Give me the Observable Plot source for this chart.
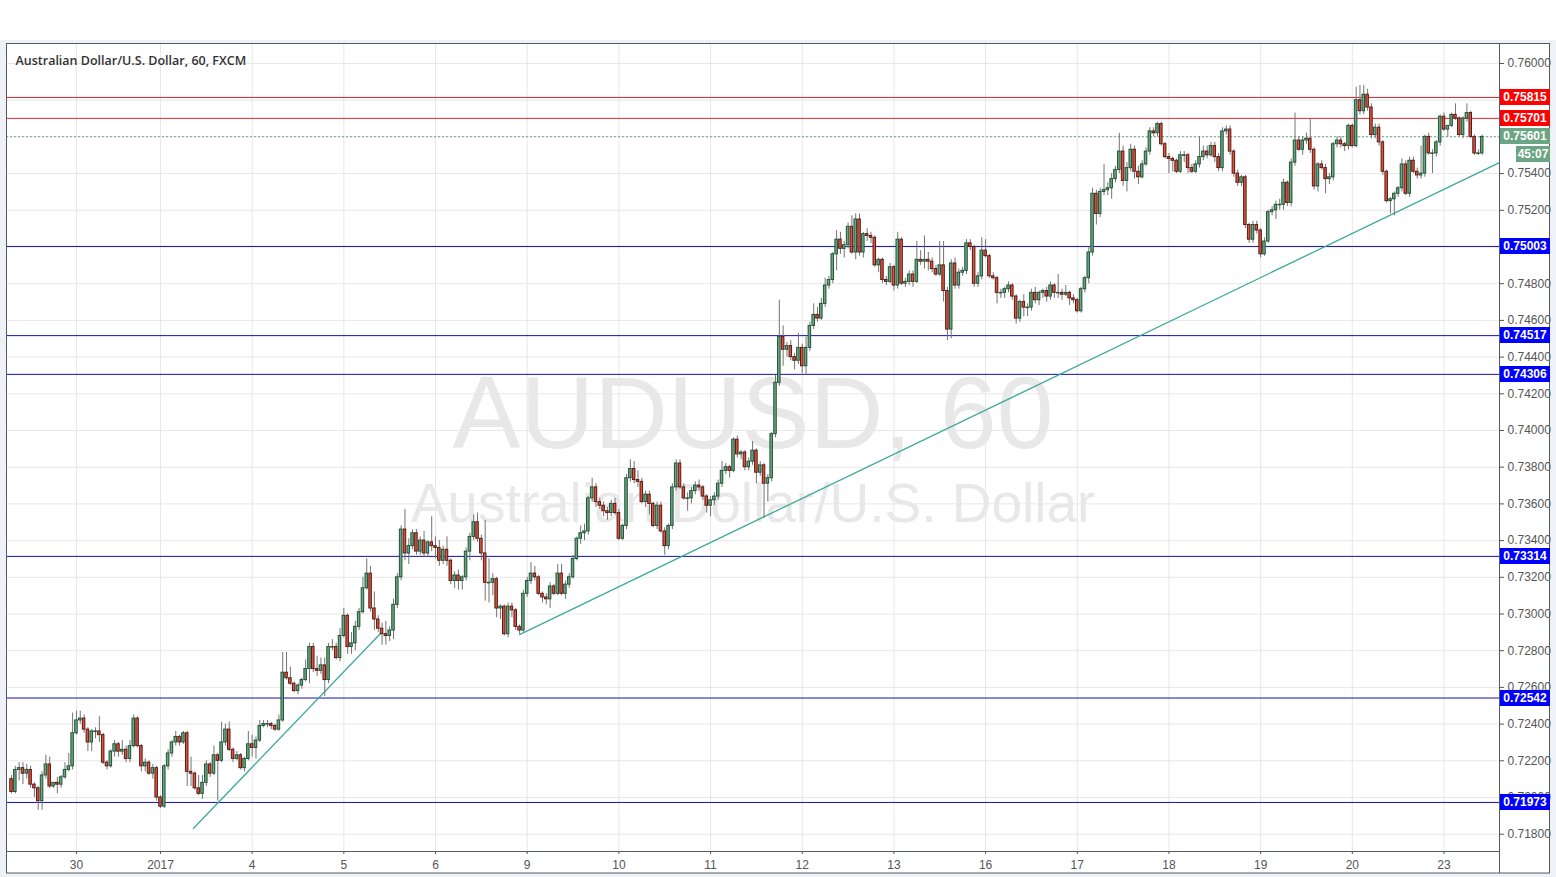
<!DOCTYPE html>
<html><head><meta charset="utf-8">
<script src="https://cdn.jsdelivr.net/npm/d3@7"></script>
<script src="https://cdn.jsdelivr.net/npm/@observablehq/plot@0.6"></script>
<style>
html,body{margin:0;padding:0;background:#ffffff;}
#chart{width:1556px;height:877px;}
</style></head><body><div id="chart"></div>
<script>
// AUD/USD hourly candles (prices in pips: 7210 = 0.7210)
const opens = [
7210,7203,7215,7216,7213,7215,7207,7205,7198,7212, 7218,7206,7208,7207,7211,7215,7217,7235,7242,7243,
7237,7230,7236,7236,7234,7219,7217,7225,7229,7225, 7226,7221,7228,7243,7228,7217,7219,7213,7216,7200,
7195,7217,7224,7230,7233,7230,7235,7214,7213,7205, 7202,7208,7218,7213,7223,7220,7230,7237,7226,7221,
7223,7216,7221,7229,7227,7231,7239,7240,7240,7239, 7237,7242,7268,7265,7262,7258,7261,7264,7270,7282,
7270,7269,7272,7264,7282,7282,7276,7288,7299,7282, 7284,7293,7301,7314,7322,7303,7297,7292,7289,7288,
7291,7305,7320,7346,7333,7337,7344,7334,7340,7333, 7339,7337,7336,7329,7335,7329,7318,7321,7318,7320,
7334,7342,7350,7341,7333,7317,7317,7319,7303,7304, 7289,7304,7302,7293,7291,7311,7318,7322,7320,7311,
7309,7308,7315,7311,7322,7311,7316,7320,7330,7341, 7344,7345,7363,7369,7361,7359,7356,7355,7360,7355,
7341,7348,7374,7379,7373,7372,7361,7365,7360,7348, 7359,7345,7337,7348,7369,7382,7369,7363,7363,7367,
7370,7369,7364,7359,7362,7364,7371,7378,7380,7378, 7395,7387,7388,7380,7383,7389,7377,7381,7371,7374,
7398,7426,7451,7444,7446,7440,7438,7445,7435,7445, 7457,7463,7461,7469,7479,7482,7496,7504,7499,7501,
7511,7497,7515,7497,7507,7506,7505,7490,7493,7482, 7481,7489,7479,7504,7480,7481,7485,7481,7493,7492,
7493,7492,7488,7485,7490,7476,7455,7491,7479,7486, 7487,7502,7500,7480,7484,7498,7495,7484,7483,7475,
7475,7477,7479,7473,7461,7470,7467,7467,7475,7471, 7475,7476,7473,7479,7475,7475,7474,7475,7472,7471,
7465,7477,7483,7497,7529,7518,7530,7531,7532,7537, 7542,7552,7536,7543,7553,7541,7538,7545,7552,7563,
7562,7567,7556,7549,7548,7547,7541,7550,7550,7543, 7541,7545,7549,7552,7550,7555,7549,7543,7563,7564,
7552,7540,7535,7538,7512,7504,7512,7509,7496,7503, 7519,7520,7523,7523,7535,7524,7546,7558,7553,7558,
7559,7553,7533,7545,7543,7537,7538,7556,7558,7556, 7555,7566,7555,7580,7574,7583,7576,7561,7565,7557,
7541,7525,7526,7529,7532,7545,7529,7547,7541,7539, 7540,7560,7551,7551,7557,7571,7564,7566,7572,7570,
7561,7570,7573,7560,7551,7551];
const highs = [
7212,7217,7219,7219,7218,7217,7208,7206,7214,7223, 7222,7208,7211,7212,7219,7224,7246,7247,7247,7245,
7238,7237,7238,7244,7235,7220,7226,7231,7230,7231, 7228,7231,7245,7244,7229,7221,7220,7218,7217,7201,
7218,7226,7231,7236,7234,7236,7236,7222,7214,7212, 7212,7220,7219,7228,7224,7241,7240,7241,7227,7225,
7224,7222,7236,7234,7233,7242,7242,7242,7241,7240, 7245,7279,7279,7271,7263,7262,7265,7275,7284,7284,
7277,7276,7276,7284,7286,7284,7292,7303,7300,7290, 7296,7303,7320,7330,7326,7312,7299,7295,7296,7293,
7308,7322,7348,7357,7341,7346,7346,7342,7345,7340, 7353,7342,7340,7337,7342,7330,7323,7324,7321,7336,
7344,7354,7355,7343,7351,7330,7322,7320,7305,7305, 7306,7306,7303,7294,7313,7320,7328,7326,7321,7312,
7311,7317,7316,7327,7327,7318,7322,7332,7342,7348, 7349,7364,7374,7371,7363,7361,7358,7362,7363,7357,
7349,7376,7384,7383,7378,7374,7367,7367,7361,7361, 7361,7347,7349,7371,7384,7384,7371,7366,7369,7372,
7373,7370,7365,7364,7366,7373,7383,7382,7381,7396, 7397,7389,7389,7385,7394,7390,7383,7382,7376,7399,
7430,7471,7457,7448,7449,7442,7453,7447,7451,7459, 7469,7467,7472,7483,7484,7497,7509,7508,7503,7513,
7517,7518,7518,7508,7510,7508,7506,7494,7494,7484, 7491,7490,7508,7505,7483,7487,7487,7503,7498,7506,
7497,7494,7490,7503,7503,7478,7493,7494,7488,7489, 7504,7504,7501,7486,7505,7504,7496,7486,7484,7477,
7478,7481,7480,7474,7471,7474,7469,7477,7478,7476, 7477,7478,7481,7480,7485,7477,7479,7476,7474,7472,
7478,7484,7500,7532,7531,7532,7545,7535,7540,7544, 7562,7555,7546,7556,7555,7544,7547,7554,7565,7565,
7568,7568,7557,7551,7549,7548,7552,7552,7551,7545, 7547,7560,7555,7555,7557,7557,7551,7565,7566,7566,
7553,7542,7539,7539,7513,7514,7514,7510,7505,7520, 7522,7525,7526,7537,7536,7548,7573,7560,7560,7562,
7570,7554,7546,7547,7545,7540,7557,7560,7560,7557, 7567,7567,7587,7588,7588,7586,7578,7567,7567,7558,
7542,7527,7530,7533,7548,7547,7549,7549,7543,7555, 7561,7562,7553,7558,7572,7573,7566,7573,7578,7571,
7571,7578,7574,7561,7553,7561];
const lows = [
7202,7202,7209,7207,7210,7205,7200,7193,7193,7210, 7205,7205,7202,7205,7210,7214,7215,7234,7240,7235,
7225,7225,7232,7230,7218,7215,7216,7222,7222,7223, 7219,7219,7227,7227,7214,7214,7212,7210,7198,7194,
7194,7215,7222,7228,7228,7229,7206,7206,7204,7201, 7199,7206,7211,7212,7198,7219,7228,7225,7219,7220,
7215,7214,7220,7222,7221,7230,7238,7238,7237,7236, 7236,7241,7264,7261,7257,7256,7259,7263,7262,7268,
7266,7267,7255,7262,7280,7275,7274,7287,7278,7278, 7280,7291,7300,7313,7301,7291,7290,7283,7283,7285,
7286,7303,7318,7329,7327,7335,7332,7332,7331,7331, 7334,7330,7326,7327,7326,7316,7314,7313,7313,7318,
7329,7340,7339,7329,7307,7306,7310,7298,7297,7288, 7287,7298,7291,7289,7290,7309,7316,7318,7310,7306,
7305,7303,7310,7310,7310,7308,7314,7319,7329,7338, 7340,7343,7361,7358,7357,7353,7351,7353,7354,7340,
7340,7346,7372,7371,7369,7360,7358,7354,7347,7346, 7344,7332,7335,7346,7367,7368,7362,7356,7360,7365,
7367,7362,7355,7353,7359,7362,7369,7376,7374,7377, 7385,7384,7378,7378,7381,7371,7375,7352,7361,7372,
7396,7424,7435,7440,7438,7433,7436,7431,7430,7443, 7455,7459,7460,7467,7477,7480,7487,7496,7494,7499,
7496,7493,7495,7494,7503,7502,7489,7486,7480,7479, 7480,7476,7477,7479,7478,7479,7478,7480,7490,7488,
7487,7486,7484,7484,7470,7449,7450,7477,7477,7484, 7485,7498,7478,7478,7482,7494,7483,7482,7469,7472,
7472,7475,7471,7458,7459,7462,7462,7465,7469,7468, 7472,7470,7471,7472,7472,7471,7473,7468,7469,7464,
7464,7475,7480,7495,7512,7516,7528,7528,7526,7535, 7540,7533,7530,7541,7537,7534,7537,7544,7550,7560,
7560,7555,7548,7540,7541,7540,7540,7546,7540,7540, 7540,7543,7547,7548,7549,7546,7541,7541,7561,7550,
7538,7533,7533,7510,7502,7502,7507,7494,7495,7502, 7517,7515,7520,7520,7522,7522,7544,7552,7550,7556,
7551,7531,7530,7542,7529,7534,7536,7554,7554,7552, 7553,7554,7554,7572,7572,7574,7559,7559,7555,7539,
7524,7518,7517,7527,7530,7528,7527,7540,7537,7537, 7538,7550,7540,7549,7555,7563,7560,7565,7569,7560,
7559,7568,7559,7550,7550,7550];
const closes = [
7203,7215,7216,7213,7215,7207,7205,7198,7212,7218, 7206,7208,7207,7211,7215,7217,7235,7242,7243,7237,
7230,7236,7236,7234,7219,7217,7225,7229,7225,7226, 7221,7228,7243,7228,7217,7219,7213,7216,7200,7195,
7217,7224,7230,7233,7230,7235,7214,7213,7205,7202, 7208,7218,7213,7223,7220,7230,7237,7226,7221,7223,
7216,7221,7229,7227,7231,7239,7240,7240,7239,7237, 7242,7268,7265,7262,7258,7261,7264,7270,7282,7270,
7269,7272,7264,7282,7282,7276,7288,7299,7282,7284, 7293,7301,7314,7322,7303,7297,7292,7289,7288,7291,
7305,7320,7346,7333,7337,7344,7334,7340,7333,7339, 7337,7336,7329,7335,7329,7318,7321,7318,7320,7334,
7342,7350,7341,7333,7317,7317,7319,7303,7304,7289, 7304,7302,7293,7291,7311,7318,7322,7320,7311,7309,
7308,7315,7311,7322,7311,7316,7320,7330,7341,7344, 7345,7363,7369,7361,7359,7356,7355,7360,7355,7341,
7348,7374,7379,7373,7372,7361,7365,7360,7348,7359, 7345,7337,7348,7369,7382,7369,7363,7363,7367,7370,
7369,7364,7359,7362,7364,7371,7378,7380,7378,7395, 7387,7388,7380,7383,7389,7377,7381,7371,7374,7398,
7426,7451,7444,7446,7440,7438,7445,7435,7445,7457, 7463,7461,7469,7479,7482,7496,7504,7499,7501,7511,
7497,7515,7497,7507,7506,7505,7490,7493,7482,7481, 7489,7479,7504,7480,7481,7485,7481,7493,7492,7493,
7492,7488,7485,7490,7476,7455,7491,7479,7486,7487, 7502,7500,7480,7484,7498,7495,7484,7483,7475,7475,
7477,7479,7473,7461,7470,7467,7467,7475,7471,7475, 7476,7473,7479,7475,7475,7474,7475,7472,7471,7465,
7477,7483,7497,7529,7518,7530,7531,7532,7537,7542, 7552,7536,7543,7553,7541,7538,7545,7552,7563,7562,
7567,7556,7549,7548,7547,7541,7550,7550,7543,7541, 7545,7549,7552,7550,7555,7549,7543,7563,7564,7552,
7540,7535,7538,7512,7504,7512,7509,7496,7503,7519, 7520,7523,7523,7535,7524,7546,7558,7553,7558,7559,
7553,7533,7545,7543,7537,7538,7556,7558,7556,7555, 7566,7555,7580,7574,7583,7576,7561,7565,7557,7541,
7525,7526,7529,7532,7545,7529,7547,7541,7539,7540, 7560,7551,7551,7557,7571,7564,7566,7572,7570,7561,
7570,7573,7560,7551,7551,7560];

// time axis: bar index of each session start and its label
const dayBars = [17,39,63,87,111,135,159,183,207,231,255,279,303,327,351,375];
const dayLabels = ["30","2017","4","5","6","9","10","11","12","13","16","17","18","19","20","23"];

// price axis ticks
const priceTicks = [0.718,0.720,0.722,0.724,0.726,0.728,0.730,0.732,0.734,0.736,0.738,0.740,
                    0.742,0.744,0.746,0.748,0.750,0.752,0.754,0.756,0.758,0.760];

// horizontal levels
const resistanceLevels = [0.75815, 0.75701];
const supportLevels = [0.75003, 0.74517, 0.74306, 0.73314, 0.72542, 0.71973];
const lastPrice = 0.75601;
const countdown = "45:07";

// trend lines: [bar, price] endpoints
const trendLineA = [[47.6, 0.71831], [96.6, 0.72894]];
const trendLineB = [[133.0, 0.72888], [389.5, 0.75460]];

const title = "Australian Dollar/U.S. Dollar, 60, FXCM";
const watermark = "AUDUSD, 60";
const watermarkSub = "Australian Dollar/U.S. Dollar";

// ---------- build ----------
const candles = closes.map((c, i) => ({
  i, o: opens[i] / 1e4, h: highs[i] / 1e4, l: lows[i] / 1e4, c: c / 1e4
}));
const isUp = d => d.c >= d.o;
const trendRows = [
  ...trendLineA.map(([b, p]) => ({b, p, k: "A"})),
  ...trendLineB.map(([b, p]) => ({b, p, k: "B"}))
];
const labelByBar = new Map(dayBars.map((b, k) => [b, dayLabels[k]]));

const W = 1556, H = 877;
const mL = 6, mR = 57, mT = 43, mB = 26;

const UP_FILL = "#6ba583", UP_LINE = "#225437";
const DN_FILL = "#d75442", DN_LINE = "#5b1a13";

const tags = [
  ...resistanceLevels.map(v => ({v, fill: "#ff0000"})),
  {v: lastPrice, fill: UP_FILL},
  ...supportLevels.map(v => ({v, fill: "#0000ff"}))
];
// axis labels that sit fully under a price tag are hidden, as on the original screen
const labelTicks = priceTicks.filter(t => !tags.some(g => Math.abs(g.v - t) < 0.0002));

// background / frame
const backdrop = (index, scales, values, dim) => {
  const g = d3.create("svg:g");
  g.append("rect").attr("x", 0).attr("y", 40).attr("width", W).attr("height", H - 40).attr("fill", "#eef1f5");
  g.append("rect").attr("x", mL).attr("y", mT).attr("width", W - mL - 6).attr("height", H - mT - 4)
    .attr("fill", "#ffffff");
  return g.node();
};
const frameLines = (index, scales, values, dim) => {
  const g = d3.create("svg:g").attr("fill", "none").attr("stroke", "#555a60").attr("stroke-width", 1);
  const r = W - mR, b = H - mB;
  g.append("rect").attr("x", mL + 0.5).attr("y", mT + 0.5).attr("width", W - mL - 6.5 - 0.5).attr("height", H - mT - 4.5);
  g.append("line").attr("x1", mL).attr("x2", r + 0.5).attr("y1", b + 0.5).attr("y2", b + 0.5);
  g.append("line").attr("x1", r + 0.5).attr("x2", r + 0.5).attr("y1", mT).attr("y2", H - 4);
  return g.node();
};

// price tags on the right axis
const priceTags = (index, scales, values, dim) => {
  const g = d3.create("svg:g");
  const x0 = W - mR + 1;
  for (const t of tags) {
    const y = Math.round(scales.y(t.v));
    g.append("rect").attr("x", x0).attr("y", y - 8).attr("width", 50).attr("height", 16).attr("fill", t.fill);
    g.append("text").attr("x", x0 + 25).attr("y", y).attr("dy", "0.36em").attr("text-anchor", "middle")
      .attr("fill", "#ffffff").attr("font-weight", "bold").attr("font-size", 12)
      .attr("font-family", "Liberation Sans, Arial, sans-serif").text(d3.format(".5f")(t.v));
  }
  const yc = Math.round(scales.y(lastPrice)) + 18;
  g.append("rect").attr("x", x0 + 16).attr("y", yc - 8).attr("width", 34).attr("height", 16).attr("fill", UP_FILL);
  g.append("text").attr("x", x0 + 33).attr("y", yc).attr("dy", "0.36em").attr("text-anchor", "middle")
    .attr("fill", "#ffffff").attr("font-weight", "bold").attr("font-size", 12)
    .attr("font-family", "Liberation Sans, Arial, sans-serif").text(countdown);
  return g.node();
};

const chart = Plot.plot({
  width: W, height: H,
  marginLeft: mL, marginRight: mR, marginTop: mT, marginBottom: mB,
  style: {background: "transparent", fontFamily: "Liberation Sans, Arial, sans-serif", fontSize: "12px", color: "#555"},
  x: {type: "linear", domain: [-1.31, 389.53], axis: null},
  y: {type: "linear", domain: [0.717057, 0.76109], axis: null},
  marks: [
    backdrop,
    Plot.gridY(priceTicks, {stroke: "#e7e7e7", strokeOpacity: 1}),
    Plot.gridX(dayBars, {stroke: "#e7e7e7", strokeOpacity: 1}),
    Plot.text([watermark], {frameAnchor: "middle", dy: -32, text: d => d, fontSize: 102, fill: "#e8e8e8"}),
    Plot.text([watermarkSub], {frameAnchor: "middle", dy: 57, text: d => d, fontSize: 55, fill: "#e8e8e8"}),
    Plot.ruleY(supportLevels, {stroke: "#1010b0", strokeWidth: 1}),
    Plot.ruleY(resistanceLevels, {stroke: "#e0262c", strokeWidth: 1}),
    Plot.ruleY([lastPrice], {stroke: UP_FILL, strokeWidth: 1, strokeDasharray: "2,2"}),
    Plot.line(trendRows, {x: "b", y: "p", z: "k", stroke: "#3fa99a", strokeWidth: 1.3}),
    Plot.ruleX(candles, {x: "i", y1: "l", y2: "h", stroke: "#737375", strokeWidth: 1}),
    Plot.rect(candles, {
      x1: d => d.i - 0.33, x2: d => d.i + 0.33,
      y1: d => Math.max(d.o, d.c), y2: d => Math.min(d.o, d.c) - (d.o === d.c ? 0.00003 : 0),
      fill: d => isUp(d) ? UP_FILL : DN_FILL,
      stroke: d => isUp(d) ? UP_LINE : DN_LINE, strokeWidth: 1
    }),
    Plot.axisY(priceTicks, {anchor: "right", tickSize: 4, text: null, stroke: "#555"}),
    Plot.axisY(labelTicks, {anchor: "right", tickSize: 0, tickPadding: 8, tickFormat: d3.format(".5f"),
      fill: "#555", fontSize: 12}),
    Plot.axisX(dayBars, {anchor: "bottom", tickSize: 3, tickPadding: 6, tickFormat: d => labelByBar.get(d),
      fill: "#555", stroke: "#555", fontSize: 12}),
    Plot.text([title], {frameAnchor: "top-left", dx: 9, dy: 13, text: d => d, fontSize: 12.5,
      fontWeight: 600, fill: "#333", fontFamily: "Open Sans, sans-serif"}),
    frameLines,
    priceTags
  ]
});
document.getElementById("chart").appendChild(chart);
</script>
</body></html>
